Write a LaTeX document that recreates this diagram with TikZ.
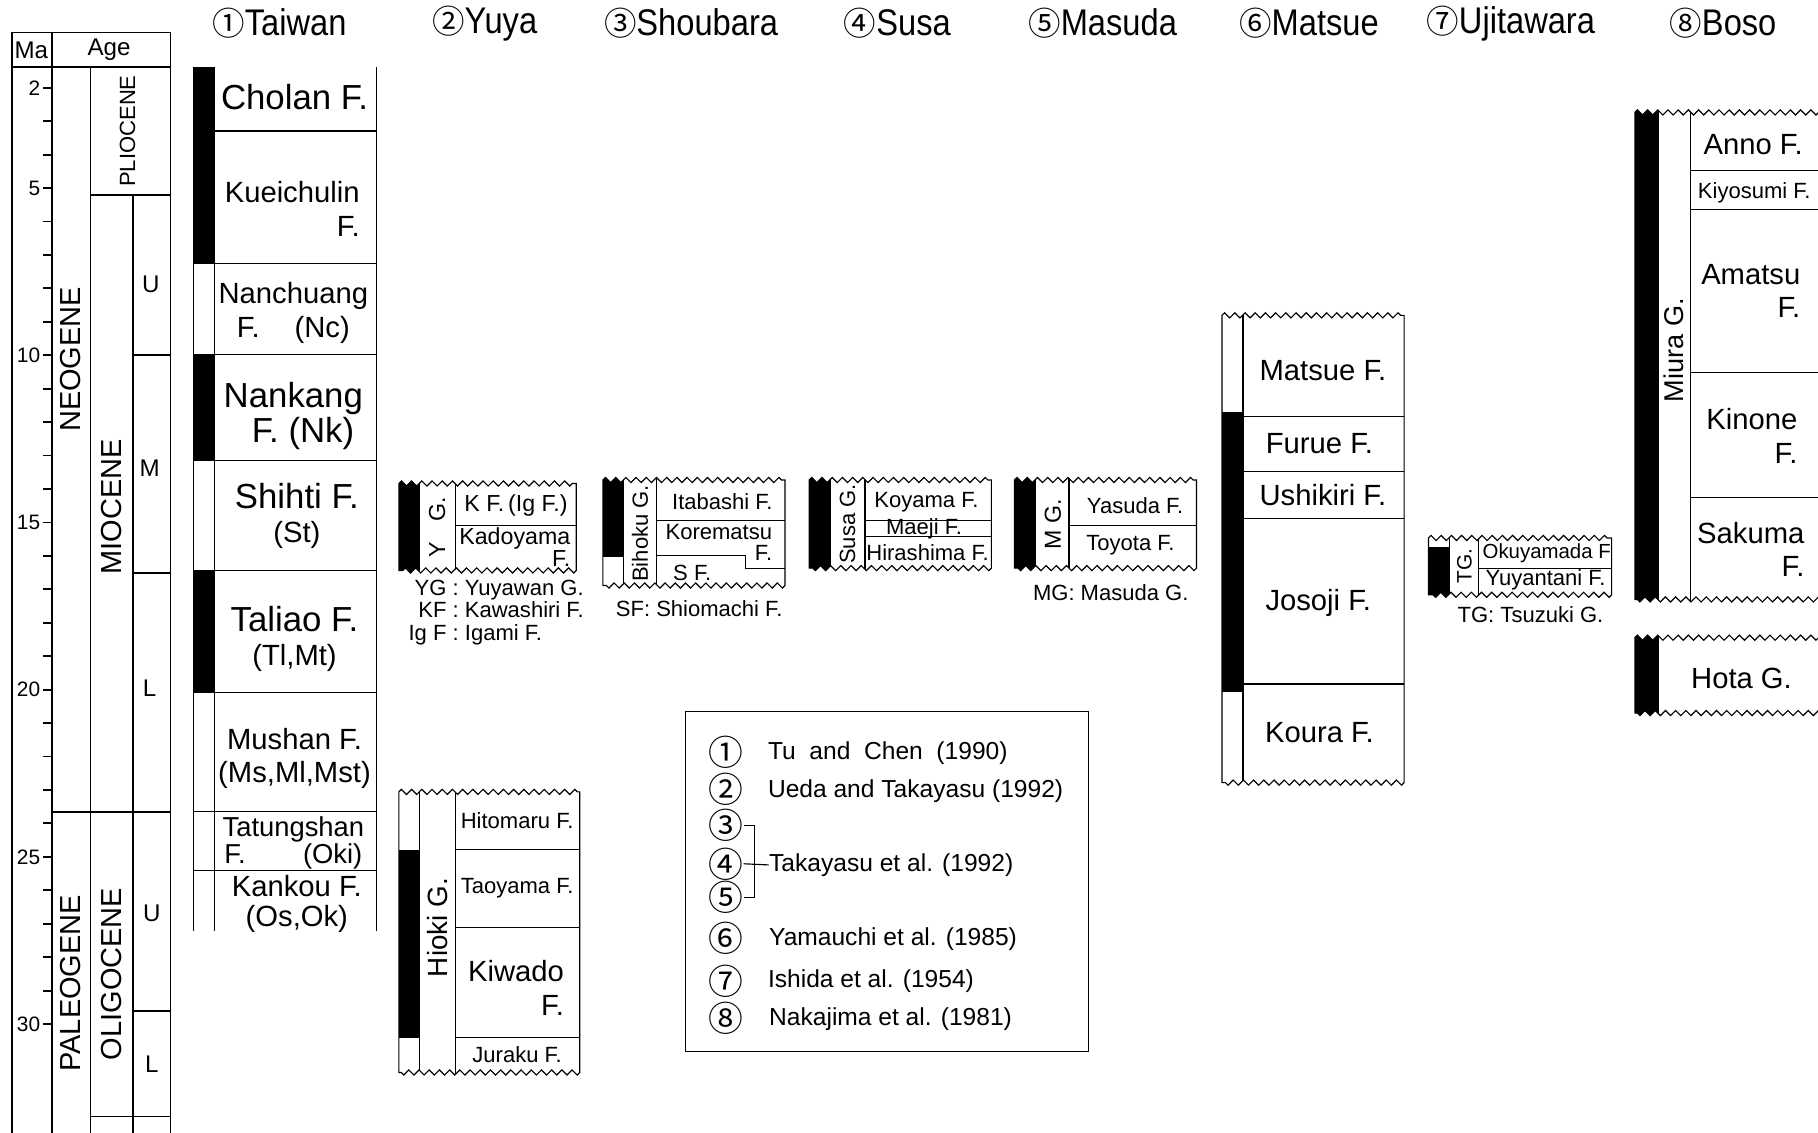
\documentclass[tikz,border=0pt]{standalone}
\usepackage{fontspec}
\setmainfont{Liberation Sans}
\newfontfamily\titlefont[FakeStretch=0.88]{Liberation Sans}
\newfontfamily\circfont{Noto Sans CJK JP}
\usetikzlibrary{decorations.pathmorphing}

% outline of a column cut by unconformities above and below
\newcommand{\wavyoutline}[4]{(#1,#4) -- (#1,#3) decorate{-- (#2,#3)} -- (#2,#4) decorate{-- (#1,#4)} -- cycle}
\newcommand{\wavyblock}[5]{%
  \begin{scope}
    \clip \wavyoutline{#1}{#2}{#3}{#4};
    #5
  \end{scope}
  \draw[fine] \wavyoutline{#1}{#2}{#3}{#4};}

\begin{document}
\begin{tikzpicture}[x=0.5pt,y=-0.5pt,
    fine/.style={line width=0.5pt},
    agebox/.style={line width=0.8pt},
    decoration={zigzag,segment length=4.4pt,amplitude=1.1pt},
    title/.style={font=\titlefont\fontsize{16}{16}\selectfont,inner sep=0pt},
    fmbig/.style={font=\fontsize{15}{15}\selectfont,align=center,inner sep=0pt},
    fmmid/.style={font=\fontsize{12.6}{14.5}\selectfont,align=center,inner sep=0pt},
    fmsmall/.style={font=\fontsize{9.5}{9}\selectfont,align=center,inner sep=0pt},
    grp/.style={rotate=90,font=\fontsize{9.5}{10}\selectfont,inner sep=0pt},
    era/.style={rotate=90,font=\fontsize{12.5}{13}\selectfont,inner sep=0pt},
    agetxt/.style={font=\fontsize{10.4}{11}\selectfont,inner sep=0pt},
    tick/.style={anchor=east,font=\fontsize{9}{10}\selectfont,inner sep=0pt},
    note/.style={font=\fontsize{9.5}{9.3}\selectfont,inner sep=0pt},
    ref/.style={anchor=west,font=\fontsize{10.6}{12}\selectfont,inner sep=0pt},
    num/.style={font=\circfont\fontsize{15}{15}\selectfont,inner sep=0pt}]
\useasboundingbox (0,0) rectangle (1568,977);

% time scale
\draw[agebox] (10,28) rectangle (147,58);
\draw[agebox] (10,58) -- (10,977) (45,28) -- (45,977) (78,58) -- (78,977)
  (115,168) -- (115,977) (147,58) -- (147,977);
\draw[agebox] (78,168) -- (147,168) (115,306) -- (147,306) (115,494) -- (147,494)
  (45,700) -- (147,700) (115,872) -- (147,872) (78,963) -- (147,963);
\foreach \m in {2,...,30} \draw[agebox] (37,{18+28.84*\m}) -- (45,{18+28.84*\m});
\foreach \m in {2,5,10,15,20,25,30} \node[tick] (ma\m) at (35,{18+28.84*\m}) {\m};
\node[agetxt] (ma) at (27,43) {Ma};
\node[agetxt] (age) at (94,43) {Age};
\node[era] (neo) at (61,310) {NEOGENE};
\node[era] (paleo) at (61,848) {PALEOGENE};
\node[era] (mio) at (96,437) {MIOCENE};
\node[era] (oligo) at (96,840) {OLIGOCENE};
\node[grp] (plio) at (110,113) {PLIOCENE};
\node[agetxt] (mu) at (130,245) {U};
\node[agetxt] (mm) at (129,404) {M};
\node[agetxt] (ml) at (129,594) {L};
\node[agetxt] (ou) at (131,788) {U};
\node[agetxt] (ol) at (131,918) {L};

% titles
\node[title] (t1) at (241,20) {{\circfont\fontsize{14}{14}\selectfont ①}Taiwan};
\node[title] (t2) at (418,20) {{\circfont\fontsize{14}{14}\selectfont ②}Yuya};
\node[title] (t3) at (596,20) {{\circfont\fontsize{14}{14}\selectfont ③}Shoubara};
\node[title] (t4) at (774,20) {{\circfont\fontsize{14}{14}\selectfont ④}Susa};
\node[title] (t5) at (951,20) {{\circfont\fontsize{14}{14}\selectfont ⑤}Masuda};
\node[title] (t6) at (1129,20) {{\circfont\fontsize{14}{14}\selectfont ⑥}Matsue};
\node[title] (t7) at (1303,20) {{\circfont\fontsize{14}{14}\selectfont ⑦}Ujitawara};
\node[title] (t8) at (1486,20) {{\circfont\fontsize{14}{14}\selectfont ⑧}Boso};

% 1 Taiwan
\fill (167,58) rectangle (185,227) (167,306) rectangle (185,397) (167,492) rectangle (185,597);
\draw[fine] (167,58) -- (167,803) (185,58) -- (185,803) (325,58) -- (325,803);
\draw[fine] (185,113) -- (325,113);
\foreach \y in {227,306,397,492,597,700,751} \draw[fine] (167,\y) -- (325,\y);
\node[fmbig] (cholan) at (254,84) {Cholan F.};
\node[fmmid,align=right] (kuei) at (252,180) {Kueichulin\\F.};
\node[fmmid] (nanch) at (253,270) {Nanchuang\\F.\hspace{1.2em}(Nc)};
\node[fmbig] (nank) at (253,359) {Nankang\\\ \ F. (Nk)};
\node[fmbig] (shihti) at (256,445) {Shihti F.\\{\fontsize{12.6}{14}\selectfont(St)}};
\node[fmbig] (taliao) at (254,551) {Taliao F.\\{\fontsize{12.6}{14}\selectfont(Tl,Mt)}};
\node[fmmid] (mushan) at (254,654) {Mushan F.\\(Ms,Ml,Mst)};
\node[fmmid,font=\fontsize{11.8}{12}\selectfont] (tatung) at (253,727) {Tatungshan\\F.\hspace{2.1em}(Oki)};
\node[fmmid,font=\fontsize{12.6}{13}\selectfont] (kankou) at (256,780) {Kankou F.\\(Os,Ok)};

% 2 Yuya
\wavyblock{344}{497}{417}{492}{%
  \fill (344,400) rectangle (362,510);
  \draw[fine] (362,400) -- (362,510) (393,400) -- (393,510) (393,453) -- (497,453);}
\node[fmsmall,font=\fontsize{10}{9.5}\selectfont] (kf) at (445,436) {K F.\,(Ig F.)};
\node[fmsmall,font=\fontsize{10}{9.5}\selectfont,align=right] (kado) at (444,472) {Kadoyama\\F.};
\node[grp,font=\fontsize{10}{10}\selectfont] (yg) at (377,455) {Y\hspace{0.9em}G.};
\node[note,anchor=north west] (yunote) at (352,500)
  {\begin{tabular}{@{}r@{\ :\ }l@{}}YG&Yuyawan G.\\KF&Kawashiri F.\\Ig F&Igami F.\end{tabular}};
\wavyblock{344}{500}{683}{925}{%
  \fill (344,733) rectangle (362,895);
  \draw[fine] (362,660) -- (362,950) (393,660) -- (393,950);
  \foreach \y in {733,800,895} \draw[fine] (393,\y) -- (500,\y);}
\node[fmsmall] (hito) at (446,708) {Hitomaru F.};
\node[fmsmall] (tao) at (446,766) {Taoyama F.};
\node[fmmid,align=right] (kiwa) at (445,852) {Kiwado\\F.};
\node[fmsmall] (jura) at (446,910) {Juraku F.};
\node[grp,font=\fontsize{12}{12}\selectfont] (hioki) at (377,800) {Hioki G.};

% 3 Shoubara
\wavyblock{520}{677}{414}{505}{%
  \fill (520,400) rectangle (538,480);
  \draw[fine] (538,400) -- (538,520) (566,400) -- (566,520) (520,480) -- (538,480)
    (566,449) -- (677,449) (566,479) -- (643,479) -- (643,490) -- (677,490);}
\node[fmsmall] (itab) at (623,433) {Itabashi F.};
\node[fmsmall,align=right] (kore) at (620,468) {Korematsu\\F.};
\node[fmsmall] (sf) at (597,494) {S F.};
\node[grp] (bihoku) at (552,460) {Bihoku G.};
\node[note] (shnote) at (603,525) {SF: Shiomachi F.};

% 4 Susa
\wavyblock{698}{855}{414}{490}{%
  \fill (698,400) rectangle (716,505);
  \draw[fine] (716,400) -- (716,505) (746,400) -- (746,505) (746,449) -- (855,449) (746,463) -- (855,463);}
\node[fmsmall] (koy) at (799,433) {Koyama F.};
\node[fmsmall] (maeji) at (797,456) {Maeji F.};
\node[fmsmall] (hira) at (800,477) {Hirashima F.};
\node[grp] (susag) at (731,452) {Susa G.};

% 5 Masuda
\wavyblock{875}{1032}{414}{490}{%
  \fill (875,400) rectangle (893,505);
  \draw[fine] (893,400) -- (893,505) (922,400) -- (922,505) (922,453) -- (1032,453);}
\node[fmsmall] (yasu) at (979,436) {Yasuda F.};
\node[fmsmall] (toyo) at (975,470) {Toyota F.};
\node[grp,font=\fontsize{10}{10}\selectfont] (mg) at (908,452) {M\ G.};
\node[note] (manote) at (958,511) {MG: Masuda G.};

% 6 Matsue
\wavyblock{1054}{1211}{272}{675}{%
  \fill (1054,355) rectangle (1072,597);
  \draw[fine] (1072,250) -- (1072,700);
  \foreach \y in {359,407,447,590} \draw[fine] (1072,\y) -- (1211,\y);}
\node[fmmid] (matsue) at (1141,320) {Matsue F.};
\node[fmmid] (furue) at (1138,383) {Furue F.};
\node[fmmid] (ushi) at (1141,427) {Ushikiri F.};
\node[fmmid] (joso) at (1137,520) {Josoji F.};
\node[fmmid] (koura) at (1138,632) {Koura F.};

% 7 Ujitawara
\wavyblock{1232}{1390}{464}{513}{%
  \fill (1232,472) rectangle (1250,530);
  \draw[fine] (1250,450) -- (1250,530) (1275,450) -- (1275,530) (1275,490) -- (1390,490);}
\node[fmsmall,font=\fontsize{8.8}{9}\selectfont] (okuy) at (1334,477) {Okuyamada F};
\node[fmsmall] (yuyan) at (1333,500) {Yuyantani F.};
\node[grp,font=\fontsize{9}{9}\selectfont] (tg) at (1263,488) {TG.};
\node[note] (ujnote) at (1320,530) {TG: Tsuzuki G.};

% 8 Boso
\wavyblock{1410}{1575}{97}{517}{%
  \fill (1410,80) rectangle (1430,530);
  \draw[fine] (1430,80) -- (1430,530) (1458,80) -- (1458,530);
  \foreach \y in {147,181,321,429} \draw[fine] (1458,\y) -- (1575,\y);}
\node[fmmid] (anno) at (1512,125) {Anno F.};
\node[fmsmall] (kiyo) at (1513,166) {Kiyosumi F.};
\node[fmmid,align=right] (amatsu) at (1510,251) {Amatsu\\F.};
\node[fmmid,align=right] (kinone) at (1511,376) {Kinone\\F.};
\node[fmmid,align=right] (sakuma) at (1510,474) {Sakuma\\F.};
\node[grp,font=\fontsize{11.7}{12}\selectfont] (miura) at (1444,302) {Miura G.};
\wavyblock{1410}{1575}{550}{615}{%
  \fill (1410,530) rectangle (1430,630);
  \draw[fine] (1430,530) -- (1430,630);}
\node[fmmid] (hota) at (1502,585) {Hota G.};

% references
\draw[fine] (591,614) rectangle (939,907);
\node[num] (l1) at (626,649) {①};
\node[num] (l2) at (626,681) {②};
\node[num] (l3) at (626,712) {③};
\node[num] (l4) at (626,745) {④};
\node[num] (l5) at (626,774) {⑤};
\node[num] (l6) at (626,809) {⑥};
\node[num] (l7) at (626,846) {⑦};
\node[num] (l8) at (626,878) {⑧};
\node[ref] (r1) at (662,650) {Tu\ \ and\ \ Chen\ \ (1990)};
\node[ref] (r2) at (662,682) {Ueda and Takayasu (1992)};
\node[ref] (r4) at (663,746) {Takayasu et al. (1992)};
\node[ref] (r6) at (663,810) {Yamauchi et al. (1985)};
\node[ref] (r7) at (662,846) {Ishida et al. (1954)};
\node[ref] (r8) at (663,879) {Nakajima et al. (1981)};
\coordinate (brace) at (651,745);
\draw[fine] (l3.east) -| (brace) |- (l5.east);
\draw[fine] (l4.east) -- (r4.west);
\end{tikzpicture}
\end{document}
